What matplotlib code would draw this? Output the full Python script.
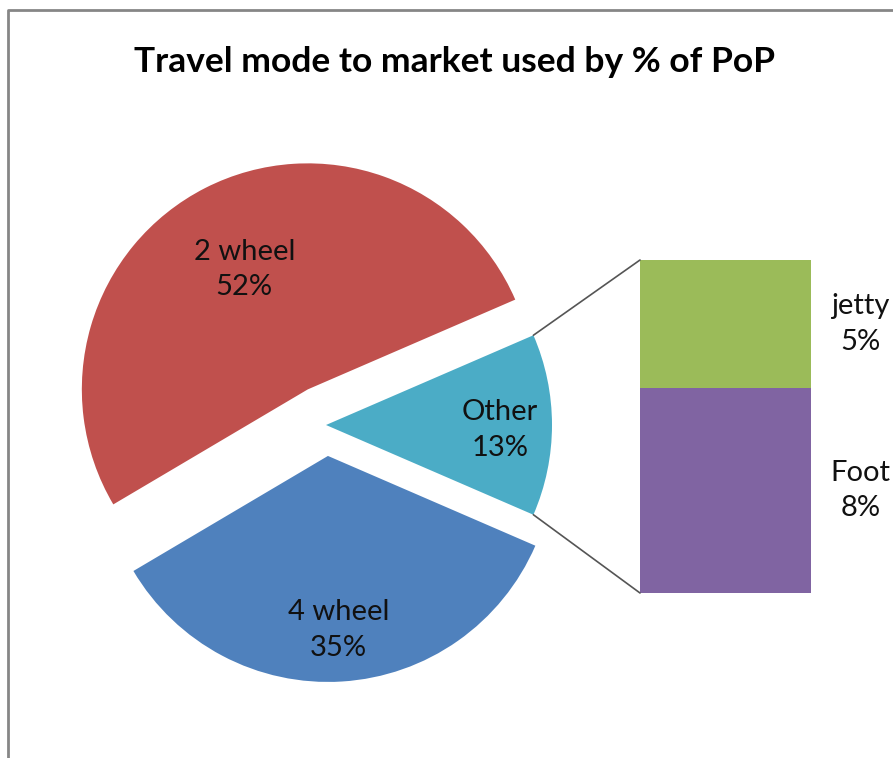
import matplotlib
matplotlib.use("Agg")
import matplotlib.pyplot as plt
from matplotlib.patches import ConnectionPatch
import numpy as np

plt.rcParams['font.family'] = ['Lato', 'DejaVu Sans']

# data
pie_labels = ["Other", "2 wheel", "4 wheel"]
pie_values = [13, 52, 35]
pie_colors = ["#4BACC6", "#C0504D", "#4F81BD"]
bar_labels = ["Foot", "jetty"]
bar_values = [8, 5]
bar_colors = ["#8064A2", "#9BBB59"]
title = "Travel mode to market used by % of PoP"

W, H = 893, 758
fig = plt.figure(figsize=(W / 100, H / 100), dpi=100)

# pie axes in pixel units (y up)
ax = fig.add_axes([0, 0, 1, 1])
start = -pie_values[0] / sum(pie_values) * 180
texts_in = [f"{l}\n{v}%" for l, v in zip(pie_labels, pie_values)]
# explode is in data units here (pixels)
wedges, texts = ax.pie(pie_values, colors=pie_colors, startangle=start,
                       explode=[0, 40, 31], center=(326, 333), radius=226,
                       labels=texts_in, labeldistance=0.74,
                       wedgeprops=dict(linewidth=0),
                       textprops=dict(fontsize=21, color="#111111", linespacing=1.45))
# excel-like label placement, a bit different per slice
label_dist = [0.77, 0.62, 0.75]
for t, wd, d in zip(texts, wedges, label_dist):
    thm = np.radians((wd.theta1 + wd.theta2) / 2)
    t.set_position((wd.center[0] + d * wd.r * np.cos(thm),
                    wd.center[1] + d * wd.r * np.sin(thm) - 5))
    t.set_ha("center")
    t.set_va("center")
ax.set_xlim(0, W)
ax.set_ylim(0, H)
ax.set_aspect("equal")
ax.axis("off")

# chart border
ax.plot([8, 8, W + 5], [-5, H - 10, H - 10], color="#868686", lw=2, clip_on=False)

# bar of "Other"
bx = fig.add_axes([640 / W, (H - 593) / H, 171 / W, 333 / H])
bottom = 0
for lab, val, col in zip(bar_labels, bar_values, bar_colors):
    bx.bar(0.5, val, width=1, bottom=bottom, color=col, linewidth=0)
    bx.text(1.29, bottom + val / 2, f"{lab}\n{val}%", ha="center", va="center",
            fontsize=21, color="#111111", linespacing=1.45, clip_on=False)
    bottom += val
bx.set_xlim(0, 1)
bx.set_ylim(0, bottom)
bx.axis("off")

# connector lines from the "Other" wedge to the bar
w = wedges[0]
cx, cy = w.center
for ang, yb in [(w.theta2, bottom), (w.theta1, 0)]:
    p = (cx + w.r * np.cos(np.radians(ang)), cy + w.r * np.sin(np.radians(ang)))
    con = ConnectionPatch(xyA=p, coordsA=ax.transData, xyB=(0, yb), coordsB=bx.transData,
                          color="#555555", lw=1.2)
    fig.add_artist(con)

fig.text(455 / W, 1 - 62 / H, title, ha="center", va="center",
         fontsize=25.5, fontweight="bold", color="black")

fig.savefig("out.png", dpi=100)
